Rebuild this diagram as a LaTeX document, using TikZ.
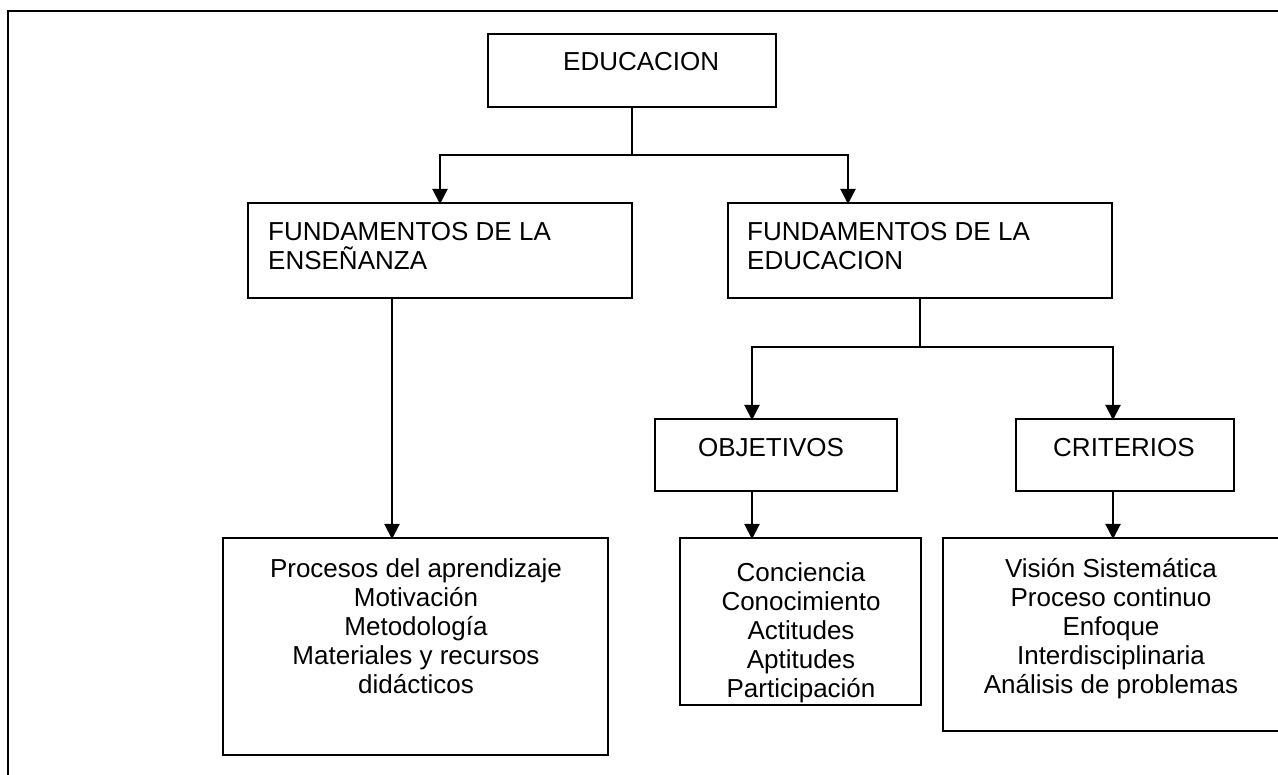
\documentclass[tikz,border=0pt]{standalone}
\usepackage{fontspec}
\setmainfont{Liberation Sans}
\usetikzlibrary{arrows.meta,calc}
\begin{document}
\begin{tikzpicture}[x=1pt,y=-1pt,
  box/.style={draw, line width=2pt, rectangle, anchor=north west, inner sep=0pt, outer sep=0pt},
  txt/.style={inner sep=0pt, font={\fontsize{26}{29}\selectfont}},
  line/.style={line width=2pt},
  arr/.style={line width=2pt, -{Triangle[width=15pt,length=15pt]}, shorten >=-1pt}]
\useasboundingbox (0,0) rectangle (1278,775);
\fill[white] (0,0) rectangle (1278,775);
% outer frame
\draw[line width=2.5pt] (8,790) -- (8,11) -- (1290,11);
% boxes
\node[box, minimum width=288pt, minimum height=73pt] (edu) at (488,34) {};
\node[box, minimum width=384pt, minimum height=95pt] (fe) at (248,203) {};
\node[box, minimum width=384pt, minimum height=95pt] (fed) at (728,203) {};
\node[box, minimum width=242pt, minimum height=72pt] (obj) at (655,419) {};
\node[box, minimum width=218pt, minimum height=72pt] (crit) at (1016,419) {};
\node[box, minimum width=385pt, minimum height=217pt] (bl) at (223,538) {};
\node[box, minimum width=241pt, minimum height=167pt] (bm) at (680,538) {};
\node[box, minimum width=345pt, minimum height=193pt] (br) at (943,538) {};
% texts
\node[txt, anchor=base west] (edu-t) at (563,70.5) {EDUCACION};
\node[txt, anchor=north west, align=left] (fe-t) at (268,220) {\rule{0pt}{20pt}FUNDAMENTOS DE LA\\ENSEÑANZA};
\node[txt, anchor=north west, align=left] (fed-t) at (747,220) {\rule{0pt}{20pt}FUNDAMENTOS DE LA\\EDUCACION};
\node[txt, anchor=base] (obj-t) at (771,456.5) {OBJETIVOS};
\node[txt, anchor=base] (crit-t) at (1124,456.5) {CRITERIOS};
\node[txt, anchor=north, align=center] (bl-t) at (416,557) {\rule{0pt}{20pt}Procesos del aprendizaje\\Motivación\\Metodología\\Materiales y recursos\\didácticos};
\node[txt, anchor=north, align=center] (bm-t) at (801,561) {\rule{0pt}{20pt}Conciencia\\Conocimiento\\Actitudes\\Aptitudes\\Participación};
\node[txt, anchor=north, align=center] (br-t) at (1111,557) {\rule{0pt}{20pt}Visión Sistemática\\Proceso continuo\\Enfoque\\Interdisciplinaria\\Análisis de problemas};
% connectors
\coordinate (j1) at ($(edu.south)+(0,48)$);
\draw[line] (edu.south) -- (j1);
\draw[arr] (j1) -| (fe.north);
\draw[arr] (j1) -| ([xshift=-72pt]fed.north);
\coordinate (j2) at ($(fed.south)+(0,49)$);
\draw[line] (fed.south) -- (j2);
\draw[arr] (j2) -| ([xshift=-24pt]obj.north);
\draw[arr] (j2) -| ([xshift=-12pt]crit.north);
\draw[arr] ([xshift=-48pt]fe.south) -- ([xshift=-48pt]fe.south |- bl.north);
\draw[arr] ([xshift=-24pt]obj.south) -- ([xshift=-24pt]obj.south |- bm.north);
\draw[arr] ([xshift=-12pt]crit.south) -- ([xshift=-12pt]crit.south |- br.north);
\end{tikzpicture}
\end{document}
